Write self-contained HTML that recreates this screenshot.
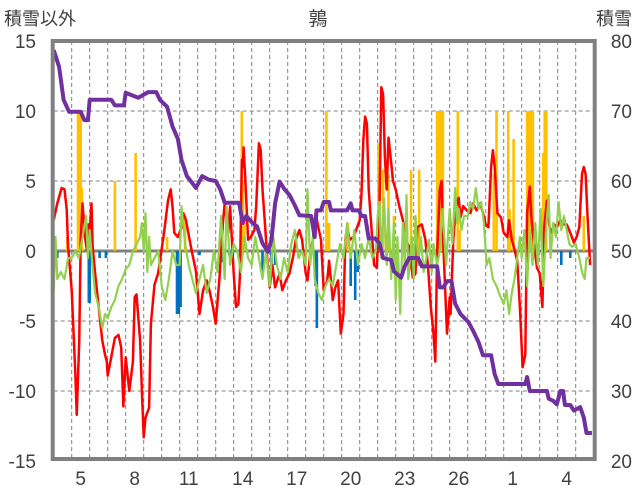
<!DOCTYPE html>
<html><head><meta charset="utf-8"><style>
body{margin:0;background:#fff}
svg{display:block;font-family:"Liberation Sans","Noto Sans CJK JP",sans-serif}
</style></head><body>
<svg id="chart" width="636" height="501" viewBox="0 0 636 501" xmlns="http://www.w3.org/2000/svg">
<text x="318" y="25" font-size="19" text-anchor="middle" fill="#404040">鶉</text>
<text x="4" y="25" font-size="18" fill="#404040">積雪以外</text>
<text x="632" y="25" font-size="18" text-anchor="end" fill="#404040">積雪</text>
<g id="grid"></g>
<g id="bars"></g>
<g id="lines"></g>
<g id="axes"></g>
</svg>
<script>
const xLabels=["5","8","11","14","17","20","23","26","1","4"];
const leftTicks=[15,10,5,0,-5,-10,-15];
const rightTicks=[80,70,60,50,40,30,20];
const redT=[0,0.2,0.44,0.6,0.72,0.8,1.0,1.2,1.28,1.42,1.5,1.6,1.75,1.85,1.94,2.0,2.1,2.16,2.3,2.5,2.7,2.85,2.95,3.0,3.15,3.4,3.6,3.75,3.87,4.0,4.2,4.4,4.5,4.6,4.8,4.9,5.0,5.1,5.3,5.4,5.6,5.8,5.96,6.15,6.35,6.5,6.6,6.7,6.9,7.1,7.2,7.35,7.55,7.7,7.9,8.1,8.3,8.5,8.65,8.85,9.0,9.2,9.4,9.5,9.7,9.8,10.0,10.13,10.26,10.35,10.45,10.5,10.55,10.65,10.8,10.95,11.15,11.25,11.4,11.5,11.6,11.75,11.9,12.0,12.15,12.3,12.55,12.7,12.9,13.1,13.3,13.45,13.65,13.8,14.0,14.1,14.25,14.4,14.55,14.7,14.85,15.0,15.2,15.3,15.4,15.5,15.65,15.8,15.95,16.1,16.2,16.3,16.45,16.65,16.8,17.0,17.1,17.2,17.3,17.4,17.5,17.65,17.8,17.95,18.1,18.2,18.3,18.4,18.5,18.6,18.75,18.85,19.0,19.2,19.4,19.55,19.75,19.95,20.1,20.2,20.45,20.65,20.8,20.95,21.1,21.2,21.3,21.45,21.55,21.65,21.75,21.85,22.0,22.05,22.2,22.35,22.5,22.6,22.75,22.95,23.15,23.3,23.5,23.7,23.85,24.0,24.15,24.3,24.4,24.5,24.65,24.85,25.0,25.2,25.3,25.45,25.6,25.75,25.9,26.05,26.2,26.3,26.45,26.55,26.7,26.85,27.0,27.15,27.25,27.4,27.55,27.65,27.8,27.95,28.15,28.3,28.5,28.7,28.9,29.05,29.2,29.35,29.45,29.55,29.65,29.8];
const redV=[2.2,3.4,4.5,4.4,3.0,0.3,-2.8,-8.7,-11.7,-6.4,0.8,3.4,0.9,0,1.9,1.4,3.4,0.4,-1.6,-4,-6.4,-7.4,-7.9,-8.9,-7.9,-6.2,-6.0,-6.9,-11.1,-7.6,-10.0,-7.9,-3.3,-3.1,-6.4,-10,-13.3,-11.9,-11.2,-5.2,-2.4,-1.6,-0.2,1.5,3.6,4.4,3.2,1.3,1.0,1.7,2.7,2.2,0.8,-0.2,-1.4,-4.5,-2.8,-2.1,-2.8,-4.0,-5.2,-2.1,2.0,3.4,1.3,3.2,-1.6,-4,-3.8,-1.6,6.5,6.0,7.4,5.0,0.8,1.0,1.5,3.2,7.7,7.2,4.4,1.7,-1.2,-2.6,-1,-2.6,-1.6,-2.8,-2.1,-1.6,-0.4,0.8,1.5,0.8,-1.6,-2.1,-0.2,0.8,2.7,1.7,0.8,-2.8,-2.1,-0.7,-2.1,-3.5,-2.6,-2.1,-5.9,-4.5,0.8,1.7,0.8,1.0,1.5,2.2,4.1,7.9,9.6,9.1,4.4,1.7,-1.0,-1.2,3.2,11.7,11.2,6.7,4.4,8.1,6.3,5.0,4.4,3.2,2.2,0.8,0.3,-1.9,-1.6,1.7,1.9,0.8,-1.2,-4,-5.9,-7.9,-0.2,4.4,5.0,0.3,-2.8,-5.9,-3.3,-4.5,0.8,3.2,3.8,2.4,3.2,2.9,2.7,3.4,2.9,3.4,2.7,1.9,1.7,6,7.2,6.0,2.7,2.4,1.3,1.0,2.2,0.8,0.1,-0.7,-4.0,-8.3,-7.4,2.7,4.6,2.2,0.3,-1.2,-1.6,-4,1.7,3.6,1.7,1.3,1.9,1.7,2.2,1.9,1.9,1.3,0.6,1.0,1.7,5.5,6.0,5.5,2.7,-1.0];
const greenT=[0,0.1,0.2,0.4,0.6,0.8,1.0,1.2,1.4,1.6,1.8,1.9,2.0,2.15,2.3,2.5,2.7,2.85,3.0,3.2,3.4,3.6,3.8,4.0,4.2,4.4,4.6,4.8,4.9,5.0,5.1,5.2,5.3,5.4,5.6,5.8,6.0,6.2,6.4,6.6,6.8,7.0,7.1,7.3,7.5,7.7,7.9,8.1,8.3,8.5,8.7,8.9,9.1,9.3,9.5,9.6,9.8,10.0,10.2,10.4,10.6,10.8,11.0,11.2,11.4,11.6,11.8,12.0,12.2,12.4,12.6,12.8,13.0,13.2,13.4,13.6,13.8,14.0,14.1,14.25,14.4,14.5,14.7,14.9,15.1,15.3,15.5,15.7,15.9,16.1,16.3,16.5,16.7,16.9,17.1,17.3,17.5,17.7,17.9,18.0,18.1,18.2,18.35,18.5,18.6,18.75,18.9,19.0,19.1,19.25,19.4,19.5,19.6,19.7,19.9,20.0,20.1,20.25,20.4,20.55,20.7,20.85,21.0,21.1,21.3,21.45,21.6,21.8,22.0,22.15,22.3,22.4,22.5,22.65,22.8,23.0,23.15,23.3,23.45,23.6,23.75,23.9,24.05,24.2,24.4,24.6,24.8,25.0,25.15,25.3,25.45,25.6,25.75,25.9,26.0,26.15,26.3,26.45,26.6,26.75,26.9,27.05,27.2,27.35,27.5,27.6,27.75,27.9,28.05,28.2,28.35,28.5,28.65,28.8,29.0,29.2,29.35,29.5,29.6,29.8];
const greenV=[-3,1,-2,-1.5,-2,-0.5,-0.5,0,-0.5,1,2.5,-0.5,1.5,-1,-3,-4,-5.5,-4.5,-4.8,-4,-3.5,-2.5,-2,-1.3,-1,0,0.5,1,2,0,2.7,-1.5,1,-1,-0.5,0,-2.5,-3.5,-2,0,-1,-1,3.2,0.5,-1,-2,-3,-2,-1,-3,-2,0,-1.5,2.5,-2,3.2,-1,0.5,0,-1.5,1,-0.5,-1,1,-0.5,-2,0,-2.5,1,-1,-2,-0.5,-1.5,0.5,1.5,-0.5,0,-1,4.4,-1,1,-2,-3,-3.5,-2.5,-2,-2.5,-1,0.5,-0.5,2,-0.5,1.5,-1,0.5,-0.5,1,-0.5,0,2.5,3.5,-0.5,3.8,-1,3,-2,2,-3.5,1,-4.5,2,-1,4,-2,1,-2,2.5,-1,1,-1.5,-0.5,0.8,-1.5,0.5,-1,0,3,-1,3,0.5,4.5,2,3,1.5,2.5,2.5,3.5,3,4.5,3,3.5,2,-1,-0.5,-2,-2.5,-3.2,-3.8,-2.8,-4.5,-3,-2,-0.5,1,-0.5,1.5,-2.5,1.5,-1,2,-1,3,-2.5,1.5,4,-0.5,2,1,3.5,1.5,2.5,1.5,0.5,0.3,0.5,-0.5,-1.5,-2,-0.5,-0.5];
const snowT=[0,0.3,0.55,0.85,1.5,1.7,1.9,2.0,2.85,3.2,3.4,3.9,4.0,4.7,5.25,5.7,5.9,6.3,6.6,6.9,7.1,7.4,7.7,7.9,8.25,8.6,9.0,9.25,9.5,10.3,10.5,10.7,11.05,11.3,11.6,11.9,12.1,12.3,12.55,12.8,13.1,13.4,13.65,14.3,14.5,14.6,14.85,15.0,15.3,15.4,16.3,16.5,16.6,16.95,17.1,17.3,17.5,17.85,18.1,18.3,18.75,18.9,19.3,19.5,19.75,20.25,20.45,21.3,21.45,21.65,21.85,22.1,22.3,22.6,23.05,23.3,23.6,23.85,24.3,24.5,24.7,26.2,26.3,26.45,27.4,27.5,27.75,27.95,28.15,28.3,28.4,28.7,28.9,29.25,29.45,29.6,29.9];
const snowV=[78.7,76.3,71.6,69.9,69.9,68.7,68.7,71.6,71.6,71.6,70.8,70.8,72.6,71.9,72.7,72.7,71.6,70.6,67.8,66.0,63.0,60.7,59.7,59.0,60.7,60.2,60,58.8,56.9,56.9,54,55,54,53.5,51.1,49.9,51.6,56.8,59.9,58.9,58,56.5,55.1,55,52,55.8,55.8,57,57,55.8,55.8,56.8,55.8,55.8,55,55,51.8,51.8,51.1,49,48.7,47.1,46.2,47.8,49,49,47.8,47.8,44.8,44.8,45.7,45.7,42.5,41,39.8,38.6,37,35.1,35.1,32.4,31,31,32,30,30,28.9,28.6,28.1,30,30,28,28,27.2,27.7,26.2,24,24];
const posBarT=[0.75,1.35,1.42,1.5,1.56,3.4,4.55,6.3,7.3,10.45,10.52,10.6,15.15,15.22,15.3,16.35,18.05,18.3,18.6,18.9,19.85,20.3,21.3,21.38,21.46,21.54,21.62,22.45,22.55,24.45,24.6,25.25,25.33,25.55,26.3,26.38,26.46,26.54,26.62,27.2,27.28,27.36,29.45];
const posBarV=[1.0,10,10,10,4.5,5.0,7.0,1.0,2.5,10,5,2,10,2,2,2,7.7,5.8,5.5,2.5,5.8,5.8,10,10,10,10,10,10,1.5,5.5,10,10,3,8,10,10,10,10,10,7,10,10,2.5];
const negBarT=[0.2,1.95,2.0,2.15,2.55,2.9,6.85,6.95,7.05,8.1,9.4,9.75,9.8,11.6,12.1,12.3,14.55,14.62,16.5,16.75,16.9,18.8,28.2,28.7];
const negBarV=[-0.5,-3.7,-3.7,-0.5,-0.5,-0.5,-4.5,-4.5,-4,-0.3,-0.8,-0.3,-0.5,-1.5,-1,-1,-2.5,-5.5,-2.5,-3.5,-1.5,-1,-1,-0.5];

const NS='http://www.w3.org/2000/svg';
const X0=53.7, DAY=18, NDAYS=30, YT=41, YB=461;
function xs(t){return X0+t*DAY;}
function yl(v){return 251-v*14;}
function yr(v){return YT+(80-v)*7;}
function mk(tag,attrs,parent){const e=document.createElementNS(NS,tag);for(const k in attrs)e.setAttribute(k,attrs[k]);parent.appendChild(e);return e;}
const grid=document.getElementById('grid'),bars=document.getElementById('bars'),lines=document.getElementById('lines'),axes=document.getElementById('axes');
for(let d=1;d<NDAYS;d++){
  const l=mk('line',{x1:xs(d),x2:xs(d),y1:YT,y2:YB,stroke:'#808080','stroke-width':1,'stroke-dasharray':'4 3'},grid);
  
  
}
leftTicks.forEach(v=>{
  if(v!==0&&Math.abs(v)!==15){
    const l=mk('line',{x1:X0,x2:xs(NDAYS),y1:yl(v),y2:yl(v),stroke:'#808080','stroke-width':1,'stroke-dasharray':'4 3'},grid);
    
    
  }
  const t=mk('text',{x:36,y:yl(v)+7,'font-size':19,'text-anchor':'end',fill:'#404040'},axes);
  t.textContent=v;
  
  
});
rightTicks.forEach(v=>{
  const t=mk('text',{x:632,y:yr(v)+7,'font-size':19,'text-anchor':'end',fill:'#404040'},axes);
  t.textContent=v;
  
  
});
xLabels.forEach((s,i)=>{
  const t=mk('text',{x:xs(1.5+3*i),y:485,'font-size':19,'text-anchor':'middle',fill:'#404040'},axes);
  t.textContent=s;
  
  
});
posBarT.forEach((t,i)=>{
  const v=posBarV[i];
  const r=mk('rect',{x:xs(t)-1.3,y:yl(v),width:2.6,height:yl(0)-yl(v),fill:'#FFC000'},bars);
  
  
});
negBarT.forEach((t,i)=>{
  const v=negBarV[i];
  const r=mk('rect',{x:xs(t)-1.3,y:yl(0),width:2.6,height:yl(v)-yl(0),fill:'#0070C0'},bars);
  
  
});
const z=mk('line',{x1:X0,x2:xs(NDAYS),y1:yl(0),y2:yl(0),stroke:'#808080','stroke-width':3},grid);


function path(T,V,fy,color,w,name){
  let d='';
  T.forEach((t,i)=>{
    d+=(i===0?'M':' L')+xs(t)+' '+fy(V[i]);
  });
  const p=mk('path',{d:d,fill:'none',stroke:color,'stroke-width':w,'stroke-linejoin':'round'},lines);
  
  
}
path(redT,redV,yl,'#FF0000',2.5,'red-series-line');
path(greenT,greenV,yl,'#92D050',2.2,'green-series-line');
path(snowT,snowV,yr,'#7030A0',4,'snow-depth-line');
const f=mk('rect',{x:X0-1,y:YT,width:xs(NDAYS)-X0+2,height:YB-YT-2,fill:'none',stroke:'#808080','stroke-width':4},axes);


</script>
</body></html>
